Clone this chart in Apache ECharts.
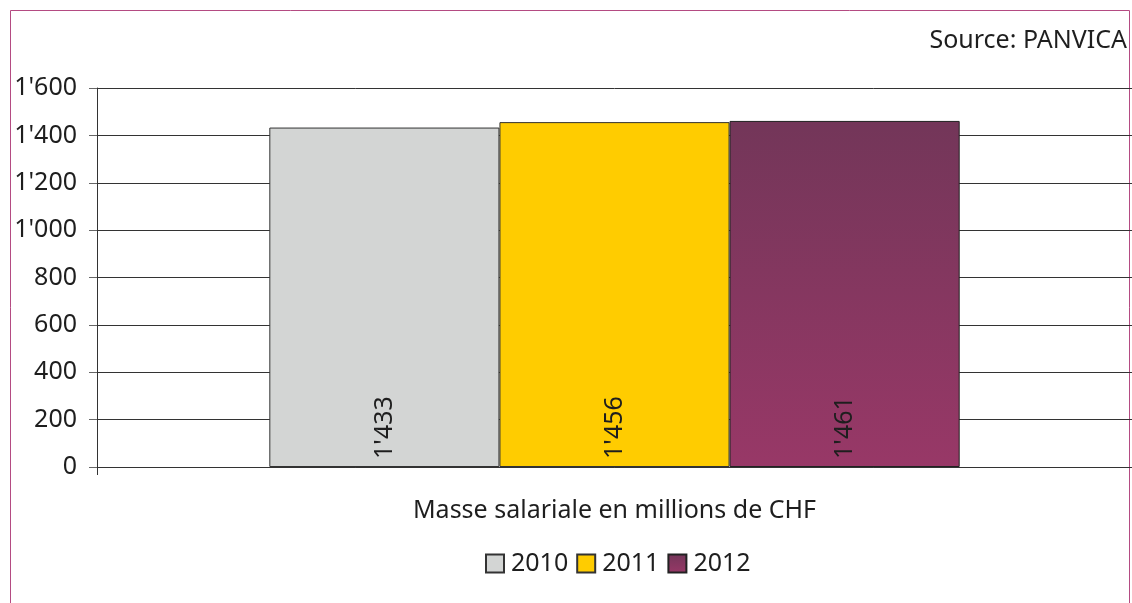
<!DOCTYPE html>
<html>
<head>
<meta charset="utf-8">
<title>Masse salariale</title>
<script src="https://cdn.jsdelivr.net/npm/echarts@6/dist/echarts.min.js"></script>
<style>
  html, body { margin: 0; padding: 0; background: #fff; }
  #chart { width: 1132px; height: 603px; }
</style>
</head>
<body>
<div id="chart"></div>
<script>
// donnees
var categories = ["Masse salariale en millions de CHF"];
var years = ["2010", "2011", "2012"];
var values2010 = [1433];
var values2011 = [1456];
var values2012 = [1461];
var yTicks = [0, 200, 400, 600, 800, 1000, 1200, 1400, 1600];

var FONT = '"Noto Sans", "DejaVu Sans", sans-serif';
var FS = 25;

// 1433 -> 1'433
function fmt(v) {
    return String(v).replace(/\B(?=(\d{3})+(?!\d))/g, "'");
}

var barLabel = {
    show: true,
    position: 'insideBottom',
    rotate: 90,
    align: 'left',
    verticalAlign: 'middle',
    distance: 8,
    fontFamily: FONT,
    fontSize: FS,
    color: '#1e1e1e',
    formatter: function (p) { return fmt(p.value); }
};

var myChart = echarts.init(document.getElementById('chart'));

var option = {
    animation: false,
    textStyle: { fontFamily: FONT },
    graphic: [
        {
            type: 'rect',
            shape: { x: 10.5, y: 10.5, width: 1119, height: 700 },
            style: { fill: 'none', stroke: '#b44b82', lineWidth: 1 },
            z: -1
        },
        {
            type: 'text',
            right: 5,
            top: 28,
            style: { text: 'Source: PANVICA', font: FS + 'px ' + FONT, fill: '#1e1e1e' }
        }
    ],
    legend: {
        bottom: 22,
        left: 480,
        itemWidth: 18,
        itemHeight: 18,
        itemGap: 8,
        data: years,
        textStyle: { fontFamily: FONT, fontSize: FS, color: '#1e1e1e', padding: [0, 0, 0, 2] },
        icon: 'rect'
    },
    grid: { left: 97, right: 0, top: 88, bottom: 136, containLabel: false },
    xAxis: {
        type: 'category',
        data: categories,
        axisLine: { lineStyle: { color: '#333', width: 1 } },
        axisTick: { show: true, length: 8, lineStyle: { color: '#333' } },
        axisLabel: { margin: 31, fontFamily: FONT, fontSize: FS, color: '#1e1e1e' }
    },
    yAxis: {
        type: 'value',
        min: yTicks[0],
        max: yTicks[yTicks.length - 1],
        interval: 200,
        axisLine: { show: true, lineStyle: { color: '#333', width: 1 } },
        axisTick: { show: true, inside: false, length: 8, lineStyle: { color: '#666' } },
        axisLabel: {
            margin: 20,
            fontFamily: FONT,
            fontSize: FS,
            color: '#1e1e1e',
            formatter: function (v) { return fmt(v); }
        },
        splitLine: { show: true, lineStyle: { color: '#333', width: 1 } }
    },
    series: [
        {
            name: years[0],
            type: 'bar',
            data: values2010,
            barGap: '0%',
            barCategoryGap: '33.3%',
            itemStyle: { color: '#d3d5d4', borderColor: '#333', borderWidth: 1 },
            label: barLabel
        },
        {
            name: years[1],
            type: 'bar',
            data: values2011,
            itemStyle: { color: '#ffcc00', borderColor: '#333', borderWidth: 1 },
            label: barLabel
        },
        {
            name: years[2],
            type: 'bar',
            data: values2012,
            itemStyle: {
                color: new echarts.graphic.LinearGradient(0, 0, 0, 1, [
                    { offset: 0, color: '#733659' },
                    { offset: 1, color: '#983867' }
                ]),
                borderColor: '#222',
                borderWidth: 1
            },
            label: barLabel
        }
    ]
};

myChart.setOption(option);
</script>
</body>
</html>
